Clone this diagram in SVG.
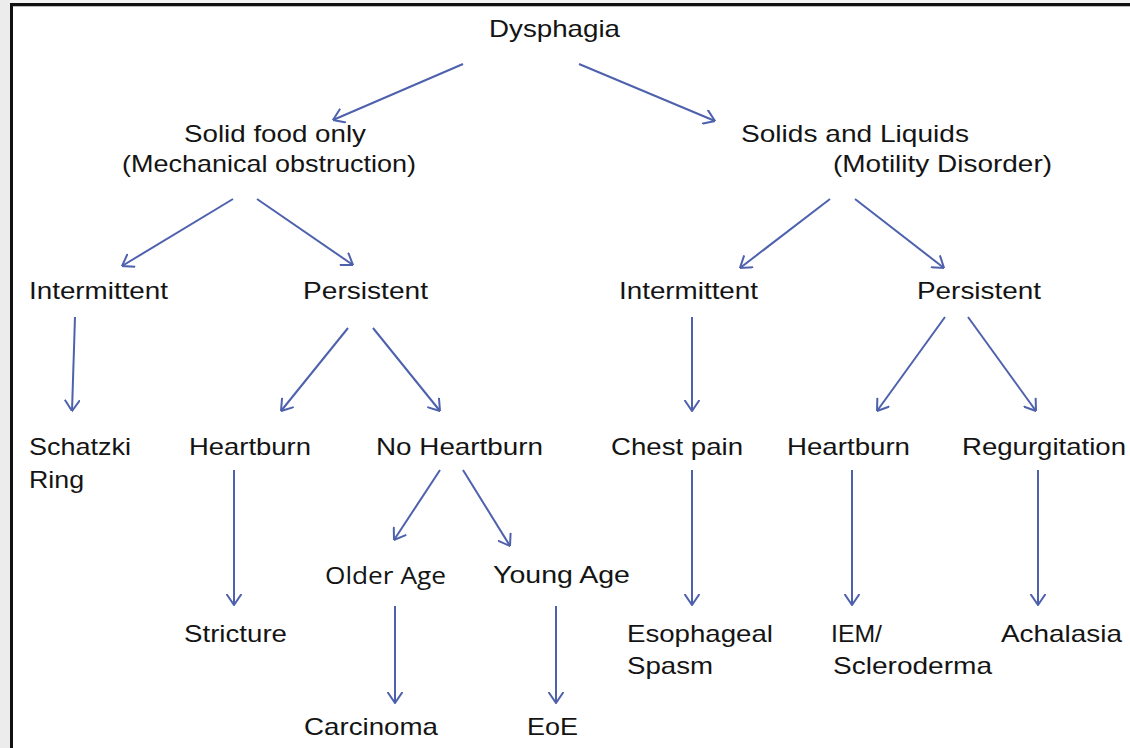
<svg xmlns="http://www.w3.org/2000/svg" width="1130" height="748" viewBox="0 0 1130 748">
<defs>
<style>
.t{font-family:"Liberation Sans",Arial,sans-serif;font-size:24px;fill:#141414}
.o{font-family:"Open Sans","Noto Sans",sans-serif;font-size:24px;fill:#141414}
.c line{stroke:#4e61ad;stroke-width:2;fill:none;marker-end:url(#ah)}
</style>
<marker id="ah" viewBox="0 0 12 16" refX="11.5" refY="8" markerWidth="12" markerHeight="16" markerUnits="userSpaceOnUse" orient="auto">
<path d="M0.5,0.5 L11.5,8 L0.5,15.5" fill="none" stroke="#4e61ad" stroke-width="2"/>
</marker>
</defs>
<rect x="0" y="0" width="1130" height="748" fill="#ffffff"/>
<rect x="0" y="0" width="10" height="748" fill="#ececec"/>
<rect x="10" y="0" width="1120" height="3" fill="#f4f4f4"/>
<rect x="10" y="3" width="3" height="745" fill="#111"/>
<rect x="10" y="3" width="1120" height="3" fill="#111"/>
<rect x="13" y="6" width="1117" height="1" fill="#bbb"/>

<g class="c" id="connectors">
<line x1="463" y1="64" x2="333" y2="120"/>
<line x1="579" y1="64" x2="715" y2="121"/>
<line x1="233" y1="199" x2="122" y2="266"/>
<line x1="257" y1="199" x2="353" y2="265"/>
<line x1="75" y1="317" x2="72" y2="411"/>
<line x1="348" y1="328" x2="281" y2="411"/>
<line x1="373" y1="328" x2="440" y2="411"/>
<line x1="234" y1="470" x2="234" y2="605"/>
<line x1="440" y1="470" x2="394" y2="540"/>
<line x1="463" y1="470" x2="510" y2="546"/>
<line x1="395" y1="606" x2="395" y2="703"/>
<line x1="556" y1="606" x2="556" y2="703"/>
<line x1="830" y1="199" x2="740" y2="268"/>
<line x1="855" y1="199" x2="944" y2="268"/>
<line x1="692" y1="317" x2="692" y2="411"/>
<line x1="945" y1="317" x2="877" y2="411"/>
<line x1="968" y1="317" x2="1036" y2="411"/>
<line x1="692" y1="470" x2="692" y2="605"/>
<line x1="852" y1="470" x2="852" y2="605"/>
<line x1="1038" y1="470" x2="1038" y2="605"/>
</g>

<g id="n-dysphagia"><text class="t" x="489" y="37" textLength="131" lengthAdjust="spacingAndGlyphs">Dysphagia</text></g>
<g id="n-solid"><text class="t" x="184" y="142" textLength="182" lengthAdjust="spacingAndGlyphs">Solid food only</text>
<text class="t" x="122" y="172" textLength="294" lengthAdjust="spacingAndGlyphs">(Mechanical obstruction)</text></g>
<g id="n-solidsliquids"><text class="t" x="741" y="142" textLength="228" lengthAdjust="spacingAndGlyphs">Solids and Liquids</text>
<text class="t" x="833" y="172" textLength="219" lengthAdjust="spacingAndGlyphs">(Motility Disorder)</text></g>
<g id="n-int-l"><text class="t" x="29" y="299" textLength="139" lengthAdjust="spacingAndGlyphs">Intermittent</text></g>
<g id="n-per-l"><text class="t" x="303" y="299" textLength="125" lengthAdjust="spacingAndGlyphs">Persistent</text></g>
<g id="n-int-r"><text class="t" x="619" y="299" textLength="139" lengthAdjust="spacingAndGlyphs">Intermittent</text></g>
<g id="n-per-r"><text class="t" x="917" y="299" textLength="124" lengthAdjust="spacingAndGlyphs">Persistent</text></g>
<g id="n-schatzki"><text class="t" x="29" y="455" textLength="102" lengthAdjust="spacingAndGlyphs">Schatzki</text>
<text class="t" x="29" y="488" textLength="55" lengthAdjust="spacingAndGlyphs">Ring</text></g>
<g id="n-hb-l"><text class="t" x="189" y="455" textLength="122" lengthAdjust="spacingAndGlyphs">Heartburn</text></g>
<g id="n-nohb"><text class="t" x="376" y="455" textLength="167" lengthAdjust="spacingAndGlyphs">No Heartburn</text></g>
<g id="n-chest"><text class="t" x="611" y="455" textLength="132" lengthAdjust="spacingAndGlyphs">Chest pain</text></g>
<g id="n-hb-r"><text class="t" x="787" y="455" textLength="123" lengthAdjust="spacingAndGlyphs">Heartburn</text></g>
<g id="n-regurg"><text class="t" x="962" y="455" textLength="164" lengthAdjust="spacingAndGlyphs">Regurgitation</text></g>
<g id="n-older"><text class="o" x="325" y="584" textLength="121" lengthAdjust="spacingAndGlyphs">Older Age</text></g>
<g id="n-young"><text class="t" x="493" y="583" textLength="137" lengthAdjust="spacingAndGlyphs">Young Age</text></g>
<g id="n-stricture"><text class="t" x="184" y="642" textLength="103" lengthAdjust="spacingAndGlyphs">Stricture</text></g>
<g id="n-spasm"><text class="t" x="627" y="642" textLength="146" lengthAdjust="spacingAndGlyphs">Esophageal</text>
<text class="t" x="627" y="674" textLength="86" lengthAdjust="spacingAndGlyphs">Spasm</text></g>
<g id="n-iem"><text class="t" x="831" y="642" textLength="51" lengthAdjust="spacingAndGlyphs">IEM/</text>
<text class="t" x="833" y="674" textLength="159" lengthAdjust="spacingAndGlyphs">Scleroderma</text></g>
<g id="n-achalasia"><text class="t" x="1001" y="642" textLength="121" lengthAdjust="spacingAndGlyphs">Achalasia</text></g>
<g id="n-carcinoma"><text class="t" x="304" y="735" textLength="134" lengthAdjust="spacingAndGlyphs">Carcinoma</text></g>
<g id="n-eoe"><text class="t" x="527" y="735" textLength="51" lengthAdjust="spacingAndGlyphs">EoE</text></g>
</svg>
